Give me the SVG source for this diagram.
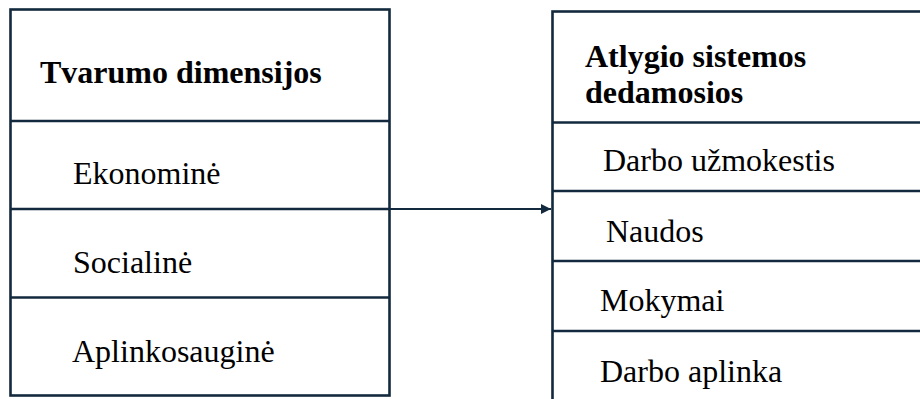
<svg xmlns="http://www.w3.org/2000/svg" width="920" height="399" viewBox="0 0 920 399">
<style>
.box{fill:#ffffff;stroke:#13293d;stroke-width:2.6}
.div{stroke:#13293d;stroke-width:2.6;fill:none}
text{font-family:'Liberation Serif','Times New Roman','DejaVu Serif',serif;font-size:32px;fill:#000000}
.b{font-weight:bold}
.conn{stroke:#13293d;stroke-width:2;fill:none}
</style>
<defs>
<marker id="arr" viewBox="0 0 10 10" refX="10" refY="5" markerWidth="5" markerHeight="5" markerUnits="strokeWidth" orient="auto">
<path d="M0,0 L10,5 L0,10 z" fill="#13293d"/>
</marker>
</defs>
<rect width="920" height="399" fill="#ffffff"/>
<g id="left-node">
<rect class="box" x="10.5" y="9.5" width="379" height="386"/>
<line class="div" x1="10.5" y1="121" x2="389.5" y2="121"/>
<line class="div" x1="10.5" y1="209" x2="389.5" y2="209"/>
<line class="div" x1="10.5" y1="297.5" x2="389.5" y2="297.5"/>
<text class="b" x="40" y="83">Tvarumo dimensijos</text>
<text x="73" y="184">Ekonominė</text>
<text x="73" y="273">Socialinė</text>
<text x="72" y="362">Aplinkosauginė</text>
</g>
<g id="right-node">
<rect class="box" x="552.5" y="11.5" width="400" height="420"/>
<line class="div" x1="552.5" y1="122.5" x2="930" y2="122.5"/>
<line class="div" x1="552.5" y1="191" x2="930" y2="191"/>
<line class="div" x1="552.5" y1="261" x2="930" y2="261"/>
<line class="div" x1="552.5" y1="331" x2="930" y2="331"/>
<text class="b" x="585" y="67">Atlygio sistemos</text>
<text class="b" x="585" y="103">dedamosios</text>
<text x="603" y="171">Darbo užmokestis</text>
<text x="606" y="242">Naudos</text>
<text x="600" y="311">Mokymai</text>
<text x="600" y="382">Darbo aplinka</text>
</g>
<g id="connectors">
<line class="conn" x1="389.5" y1="209" x2="551" y2="209" marker-end="url(#arr)"/>
</g>
</svg>
